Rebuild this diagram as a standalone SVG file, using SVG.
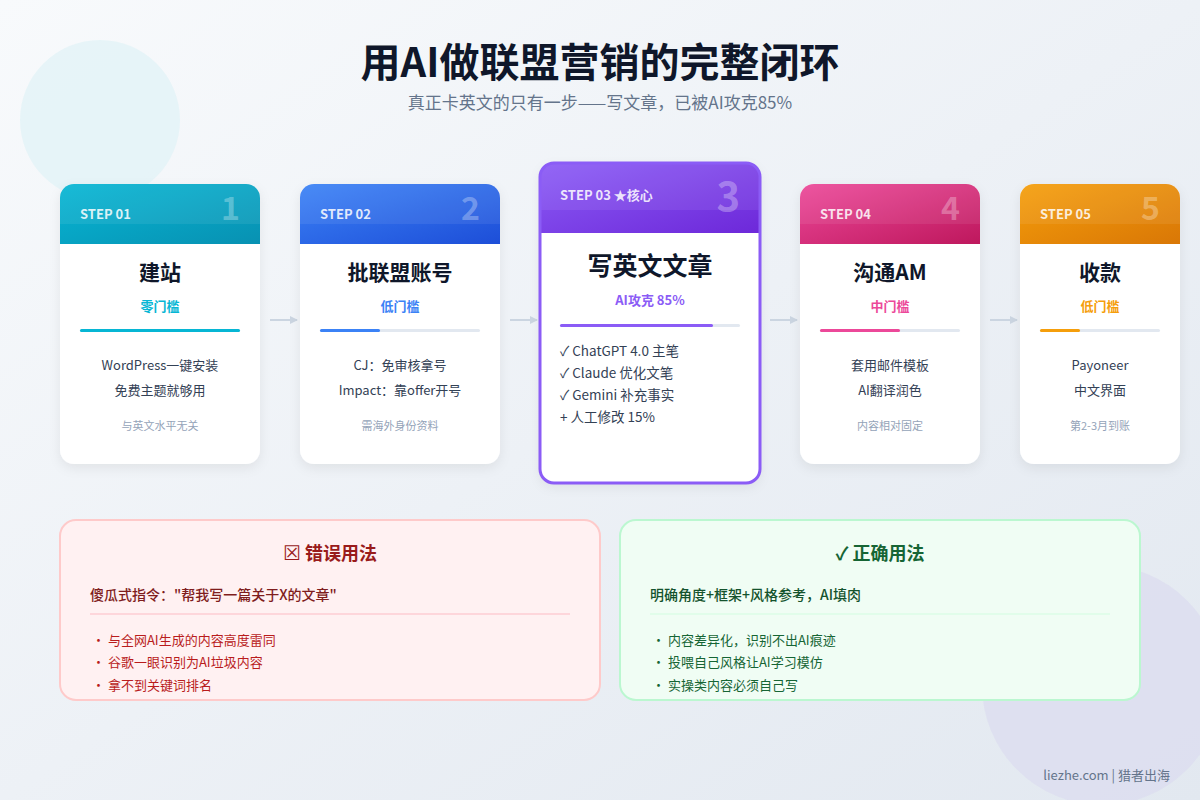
<svg xmlns="http://www.w3.org/2000/svg" width="1200" height="800" viewBox="0 0 1200 800">
<defs>
<linearGradient id="bg" x1="0" y1="0" x2="1" y2="1"><stop offset="0" stop-color="#f8fafc"/><stop offset="1" stop-color="#e2e8f0"/></linearGradient>
<linearGradient id="g1" x1="0" y1="0" x2="1" y2="1"><stop offset="0" stop-color="#06b6d4"/><stop offset="1" stop-color="#0891b2"/></linearGradient>
<linearGradient id="g2" x1="0" y1="0" x2="1" y2="1"><stop offset="0" stop-color="#3b82f6"/><stop offset="1" stop-color="#1d4ed8"/></linearGradient>
<linearGradient id="g3" x1="0" y1="0" x2="1" y2="1"><stop offset="0" stop-color="#8b5cf6"/><stop offset="1" stop-color="#6d28d9"/></linearGradient>
<linearGradient id="g4" x1="0" y1="0" x2="1" y2="1"><stop offset="0" stop-color="#ec4899"/><stop offset="1" stop-color="#be185d"/></linearGradient>
<linearGradient id="g5" x1="0" y1="0" x2="1" y2="1"><stop offset="0" stop-color="#f59e0b"/><stop offset="1" stop-color="#d97706"/></linearGradient>
<filter id="sh" x="-20%" y="-20%" width="140%" height="140%"><feDropShadow dx="0" dy="4" stdDeviation="6" flood-color="#0f172a" flood-opacity="0.07"/></filter>
<marker id="ah" markerWidth="8" markerHeight="8" refX="7" refY="4" orient="auto" markerUnits="userSpaceOnUse"><path d="M0,0 L8,4 L0,8 Z" fill="#cbd5e1"/></marker>
</defs>
<style>
text{font-family:"Noto Sans CJK SC","Noto Sans",sans-serif}
.step{font-size:13px;font-weight:700;fill:#fff;fill-opacity:0.85}
.num{font-size:32px;font-weight:700;fill:#fff;fill-opacity:0.3}
.ttl{font-size:21px;font-weight:700;fill:#0f172a}
.sub{font-size:13px;font-weight:700}
.ln{font-size:13px;fill:#334155}
.note{font-size:11px;fill:#94a3b8}
.li{font-size:13.5px;fill:#334155}
.bar{fill:#e2e8f0}
.card{fill:#fff}
.hl{fill:#fff;fill-opacity:0.07}
.bt{font-size:18px;font-weight:700}
.bs{font-size:14px;font-weight:700}
.bl{font-size:13px}
</style>
<rect width="1200" height="800" fill="url(#bg)"/>
<circle cx="100" cy="120" r="80" fill="#e0f2f7" fill-opacity="0.7"/>
<circle cx="1102" cy="685" r="120" fill="#dcdcf0" fill-opacity="0.7"/>
<text x="600" y="77" text-anchor="middle" font-size="40" font-weight="700" fill="#0f172a">用AI做联盟营销的完整闭环</text>
<text x="600" y="109" text-anchor="middle" font-size="17" fill="#64748b">真正卡英文的只有一步——写文章，已被AI攻克85%</text>

<g id="connectors" stroke="#cbd5e1" stroke-width="2" fill="none">
<line x1="270" y1="320" x2="297" y2="320" marker-end="url(#ah)"/>
<line x1="510" y1="320" x2="537" y2="320" marker-end="url(#ah)"/>
<line x1="770" y1="320" x2="797" y2="320" marker-end="url(#ah)"/>
<line x1="990" y1="320" x2="1017" y2="320" marker-end="url(#ah)"/>
</g>

<g id="step1">
<rect class="card" x="60" y="184" width="200" height="280" rx="14" filter="url(#sh)"/>
<path d="M60,244 V198 A14,14 0 0 1 74,184 H246 A14,14 0 0 1 260,198 V244 Z" fill="url(#g1)"/>
<path d="M60,224 V198 A14,14 0 0 1 74,184 H246 A14,14 0 0 1 260,198 V224 Z" class="hl"/>
<text x="80" y="219" class="step">STEP 01</text>
<text x="240" y="220" class="num" text-anchor="end">1</text>
<text x="160" y="280" class="ttl" text-anchor="middle">建站</text>
<text x="160" y="311" class="sub" text-anchor="middle" fill="#06b6d4">零门槛</text>
<rect class="bar" x="80" y="329" width="160" height="3" rx="1.5"/>
<rect x="80" y="329" width="160" height="3" rx="1.5" fill="#06b6d4"/>
<text x="160" y="370" class="ln" text-anchor="middle">WordPress一键安装</text>
<text x="160" y="395" class="ln" text-anchor="middle">免费主题就够用</text>
<text x="160" y="430" class="note" text-anchor="middle">与英文水平无关</text>
</g>

<g id="step2">
<rect class="card" x="300" y="184" width="200" height="280" rx="14" filter="url(#sh)"/>
<path d="M300,244 V198 A14,14 0 0 1 314,184 H486 A14,14 0 0 1 500,198 V244 Z" fill="url(#g2)"/>
<path d="M300,224 V198 A14,14 0 0 1 314,184 H486 A14,14 0 0 1 500,198 V224 Z" class="hl"/>
<text x="320" y="219" class="step">STEP 02</text>
<text x="480" y="220" class="num" text-anchor="end">2</text>
<text x="400" y="280" class="ttl" text-anchor="middle">批联盟账号</text>
<text x="400" y="311" class="sub" text-anchor="middle" fill="#3b82f6">低门槛</text>
<rect class="bar" x="320" y="329" width="160" height="3" rx="1.5"/>
<rect x="320" y="329" width="60" height="3" rx="1.5" fill="#3b82f6"/>
<text x="400" y="370" class="ln" text-anchor="middle">CJ：免审核拿号</text>
<text x="400" y="395" class="ln" text-anchor="middle">Impact：靠offer开号</text>
<text x="400" y="430" class="note" text-anchor="middle">需海外身份资料</text>
</g>

<g id="step3">
<rect class="card" x="540" y="163" width="220" height="320" rx="14" filter="url(#sh)"/>
<path d="M540,233 V177 A14,14 0 0 1 554,163 H746 A14,14 0 0 1 760,177 V233 Z" fill="url(#g3)"/>
<path d="M540,210 V177 A14,14 0 0 1 554,163 H746 A14,14 0 0 1 760,177 V210 Z" class="hl"/>
<rect x="540" y="163" width="220" height="320" rx="14" fill="none" stroke="#8b5cf6" stroke-width="3"/>
<text x="560" y="200" class="step">STEP 03 ★核心</text>
<text x="740" y="211" class="num" text-anchor="end" style="font-size:40px">3</text>
<text x="650" y="275" class="ttl" text-anchor="middle" style="font-size:25px">写英文文章</text>
<text x="650" y="305" class="sub" text-anchor="middle" fill="#8b5cf6">AI攻克 85%</text>
<rect class="bar" x="560" y="324" width="180" height="3" rx="1.5"/>
<rect x="560" y="324" width="153" height="3" rx="1.5" fill="#8b5cf6"/>
<text x="560" y="356" class="li">✓ ChatGPT 4.0 主笔</text>
<text x="560" y="378" class="li">✓ Claude 优化文笔</text>
<text x="560" y="400" class="li">✓ Gemini 补充事实</text>
<text x="560" y="422" class="li">+ 人工修改 15%</text>
</g>

<g id="step4">
<rect class="card" x="800" y="184" width="180" height="280" rx="14" filter="url(#sh)"/>
<path d="M800,244 V198 A14,14 0 0 1 814,184 H966 A14,14 0 0 1 980,198 V244 Z" fill="url(#g4)"/>
<path d="M800,224 V198 A14,14 0 0 1 814,184 H966 A14,14 0 0 1 980,198 V224 Z" class="hl"/>
<text x="820" y="219" class="step">STEP 04</text>
<text x="960" y="220" class="num" text-anchor="end">4</text>
<text x="890" y="280" class="ttl" text-anchor="middle">沟通AM</text>
<text x="890" y="311" class="sub" text-anchor="middle" fill="#ec4899">中门槛</text>
<rect class="bar" x="820" y="329" width="140" height="3" rx="1.5"/>
<rect x="820" y="329" width="80" height="3" rx="1.5" fill="#ec4899"/>
<text x="890" y="370" class="ln" text-anchor="middle">套用邮件模板</text>
<text x="890" y="395" class="ln" text-anchor="middle">AI翻译润色</text>
<text x="890" y="430" class="note" text-anchor="middle">内容相对固定</text>
</g>

<g id="step5">
<rect class="card" x="1020" y="184" width="160" height="280" rx="14" filter="url(#sh)"/>
<path d="M1020,244 V198 A14,14 0 0 1 1034,184 H1166 A14,14 0 0 1 1180,198 V244 Z" fill="url(#g5)"/>
<path d="M1020,224 V198 A14,14 0 0 1 1034,184 H1166 A14,14 0 0 1 1180,198 V224 Z" class="hl"/>
<text x="1040" y="219" class="step">STEP 05</text>
<text x="1160" y="220" class="num" text-anchor="end">5</text>
<text x="1100" y="280" class="ttl" text-anchor="middle">收款</text>
<text x="1100" y="311" class="sub" text-anchor="middle" fill="#f59e0b">低门槛</text>
<rect class="bar" x="1040" y="329" width="120" height="3" rx="1.5"/>
<rect x="1040" y="329" width="40" height="3" rx="1.5" fill="#f59e0b"/>
<text x="1100" y="370" class="ln" text-anchor="middle">Payoneer</text>
<text x="1100" y="395" class="ln" text-anchor="middle">中文界面</text>
<text x="1100" y="430" class="note" text-anchor="middle">第2-3月到账</text>
</g>

<g id="wrong">
<rect x="60" y="520" width="540" height="180" rx="16" fill="#fff1f2" stroke="#fecaca" stroke-width="2"/>
<text x="330" y="560" class="bt" text-anchor="middle" fill="#991b1b"><tspan font-family="DejaVu Sans" font-weight="400" font-size="20">☒</tspan> 错误用法</text>
<text x="90" y="600" class="bs" fill="#7f1d1d" style="font-weight:500">傻瓜式指令："帮我写一篇关于X的文章"</text>
<line x1="90" y1="614" x2="570" y2="614" stroke="#fecdd3" stroke-width="1.5"/>
<text x="92" y="645" class="bl" fill="#b91c1c">・ 与全网AI生成的内容高度雷同</text>
<text x="92" y="667" class="bl" fill="#b91c1c">・ 谷歌一眼识别为AI垃圾内容</text>
<text x="92" y="690" class="bl" fill="#b91c1c">・ 拿不到关键词排名</text>
</g>

<g id="right">
<rect x="620" y="520" width="520" height="180" rx="16" fill="#f0fdf4" stroke="#bbf7d0" stroke-width="2"/>
<text x="880" y="560" class="bt" text-anchor="middle" fill="#166534">✓ 正确用法</text>
<text x="650" y="600" class="bs" fill="#14532d" style="font-weight:500">明确角度+框架+风格参考，AI填肉</text>
<line x1="650" y1="614" x2="1110" y2="614" stroke="#dcfce7" stroke-width="1.5"/>
<text x="652" y="645" class="bl" fill="#166534">・ 内容差异化，识别不出AI痕迹</text>
<text x="652" y="667" class="bl" fill="#166534">・ 投喂自己风格让AI学习模仿</text>
<text x="652" y="690" class="bl" fill="#166534">・ 实操类内容必须自己写</text>
</g>

<text x="1170" y="780" text-anchor="end" font-size="13" fill="#64748b">liezhe.com | 猎者出海</text>
</svg>
